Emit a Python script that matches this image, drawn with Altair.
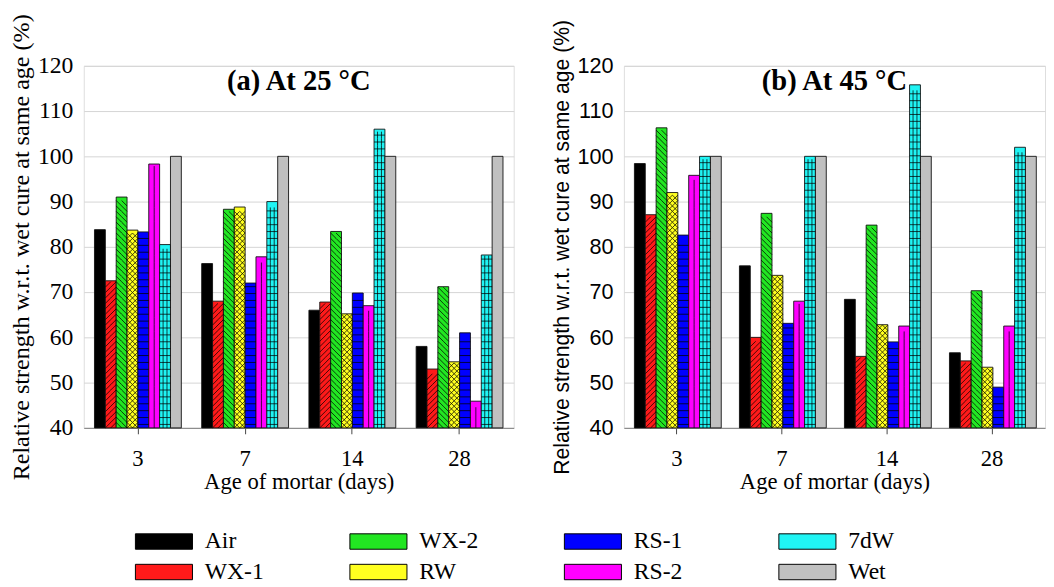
import altair as alt
import pandas as pd

ages = ["3", "7", "14", "28"]
series = ["Air", "WX-1", "WX-2", "RW", "RS-1", "RS-2", "7dW", "Wet"]
colors = ["#000000", "#ff1a1a", "#22e622", "#ffff20", "#0000ff", "#ff00ff", "#20f4f4", "#c0c0c0"]

# values per age, in series order
vals_25 = {
    "3":  [83.8, 72.5, 91.0, 83.7, 83.3, 98.3, 80.5, 100],
    "7":  [76.3, 68.0, 88.3, 88.8, 72.0, 77.8, 90.0, 100],
    "14": [66.0, 67.8, 83.4, 65.2, 69.8, 67.0, 106.0, 100],
    "28": [58.0, 53.0, 71.2, 54.6, 61.0, 45.9, 78.2, 100],
}
vals_45 = {
    "3":  [98.4, 87.1, 106.3, 92.0, 82.6, 95.8, 100.0, 100],
    "7":  [75.8, 60.0, 87.4, 73.7, 63.1, 68.0, 100.0, 100],
    "14": [68.4, 55.8, 84.8, 62.8, 59.0, 62.5, 115.8, 100],
    "28": [56.6, 54.8, 70.3, 53.4, 49.0, 62.5, 102.0, 100],
}

# legend reading order (row-major, 4 columns)
legend_order = ["Air", "WX-2", "RS-1", "7dW", "WX-1", "RW", "RS-2", "Wet"]
legend_colors = [colors[series.index(s)] for s in legend_order]

# fill-pattern tiles (decoration only): series -> svg path, tile height in data units
pattern_names = ["WX-1", "WX-2", "RW", "RS-1", "RS-2", "7dW"]
pattern_paths = [
    "M-1,0.5L0,-0.5M0,0.5L1,-0.5",
    "M-1,-0.5L0,0.5M0,-0.5L1,0.5",
    "M-1,0.5L0,-0.5M0,0.5L1,-0.5M-1,-0.5L0,0.5M0,-0.5L1,0.5",
    "M-1,0H1",
    "M0,-0.64V0.64",
    "M-1,0H1M-0.36,-0.64V0.64M0.36,-0.64V0.64",
]
pattern_step = [1.196, 1.196, 1.196, 1.522, 1.522, 1.522]

BASE = 40
YTITLE = "Relative strength w.r.t. wet cure at same age (%)"


def frame(vals):
    rows = []
    for a in ages:
        for s, v in zip(series, vals[a]):
            rows.append({"age": a, "series": s, "value": v})
    return pd.DataFrame(rows)


def tiles(vals):
    rows = []
    for a in ages:
        for s, v in zip(series, vals[a]):
            if s not in pattern_names:
                continue
            h = pattern_step[pattern_names.index(s)]
            n = int((v - BASE) / h)
            for k in range(n):
                rows.append({"age": a, "series": s, "value": BASE + h / 2 + k * h})
    return pd.DataFrame(rows)


SANS = "Liberation Sans"
SERIF = "Liberation Serif"


def panel(vals, title, legend, yfont, ylab_size, ytitle_size, width, title_offset):
    color_kw = dict(scale=alt.Scale(domain=legend_order, range=legend_colors))
    if legend:
        color_kw["legend"] = alt.Legend(
            title=None, orient="none", legendX=66.5, legendY=468.5,
            columns=4, direction="horizontal",
            symbolType="M-2,-0.54H2V0.54H-2Z", symbolSize=841,
            symbolStrokeColor="#000000", symbolStrokeWidth=1, symbolOpacity=1,
            labelFont=SERIF, labelFontSize=24, labelColor="#000",
            labelOffset=26.5, rowPadding=4, columnPadding=85,
            gridAlign="all", padding=0, labelLimit=200,
        )
    else:
        color_kw["legend"] = None

    xaxis = alt.Axis(title="Age of mortar (days)", labelAngle=0,
                     labelFont=SERIF, labelFontSize=23, labelColor="#000",
                     titleFont=SERIF, titleFontSize=23, titleFontWeight="normal",
                     titleColor="#000", titlePadding=1,
                     domainColor="#7f7f7f", tickColor="#444", tickSize=6,
                     labelPadding=14, grid=False)
    yaxis = alt.Axis(title=YTITLE,
                     values=list(range(40, 121, 10)),
                     labelFont=yfont, labelFontSize=ylab_size, labelColor="#000",
                     titleFont=yfont, titleFontSize=ytitle_size,
                     titleFontWeight="normal",
                     titleColor="#000", titlePadding=4,
                     domain=False, ticks=False, labelPadding=11,
                     gridColor="#d4d4d4")
    xscale = alt.Scale(paddingInner=0.19, paddingOuter=0.1)
    xoff = alt.XOffset("series:N", sort=series,
                       scale=alt.Scale(paddingInner=0, paddingOuter=0))
    yscale = alt.Scale(domain=[40, 120], zero=False)

    bars = alt.Chart(frame(vals)).mark_bar(
        stroke="#111111", strokeWidth=0.9
    ).encode(
        x=alt.X("age:N", sort=ages, scale=xscale, axis=xaxis),
        xOffset=xoff,
        y=alt.Y("value:Q", scale=yscale, axis=yaxis),
        y2=alt.datum(BASE),
        color=alt.Color("series:N", **color_kw),
    )

    pats = alt.Chart(tiles(vals)).mark_point(
        filled=False, color="#000000", strokeWidth=0.75, opacity=1, size=121
    ).encode(
        x=alt.X("age:N", sort=ages, scale=xscale, axis=xaxis),
        xOffset=xoff,
        y=alt.Y("value:Q", scale=yscale, axis=yaxis),
        shape=alt.Shape("series:N",
                        scale=alt.Scale(domain=pattern_names, range=pattern_paths),
                        legend=None),
    )

    return alt.layer(bars, pats).properties(
        width=width, height=368,
        title=alt.TitleParams(title, font=SERIF, fontSize=29, fontWeight="bold",
                              color="#000", anchor="middle", offset=title_offset),
    )


left = panel(vals_25, "(a) At 25 °C", True, SERIF, 24, 24.5, 437, -84)
right = panel(vals_45, "(b) At 45 °C", False, SANS, 22, 21.5, 428, -78)

chart = alt.hconcat(left, right, spacing=36).configure_view(
    stroke="#7f7f7f", strokeWidth=1
).configure(padding=0)

chart.save("out.html", embed_options={"renderer": "svg", "actions": False})
